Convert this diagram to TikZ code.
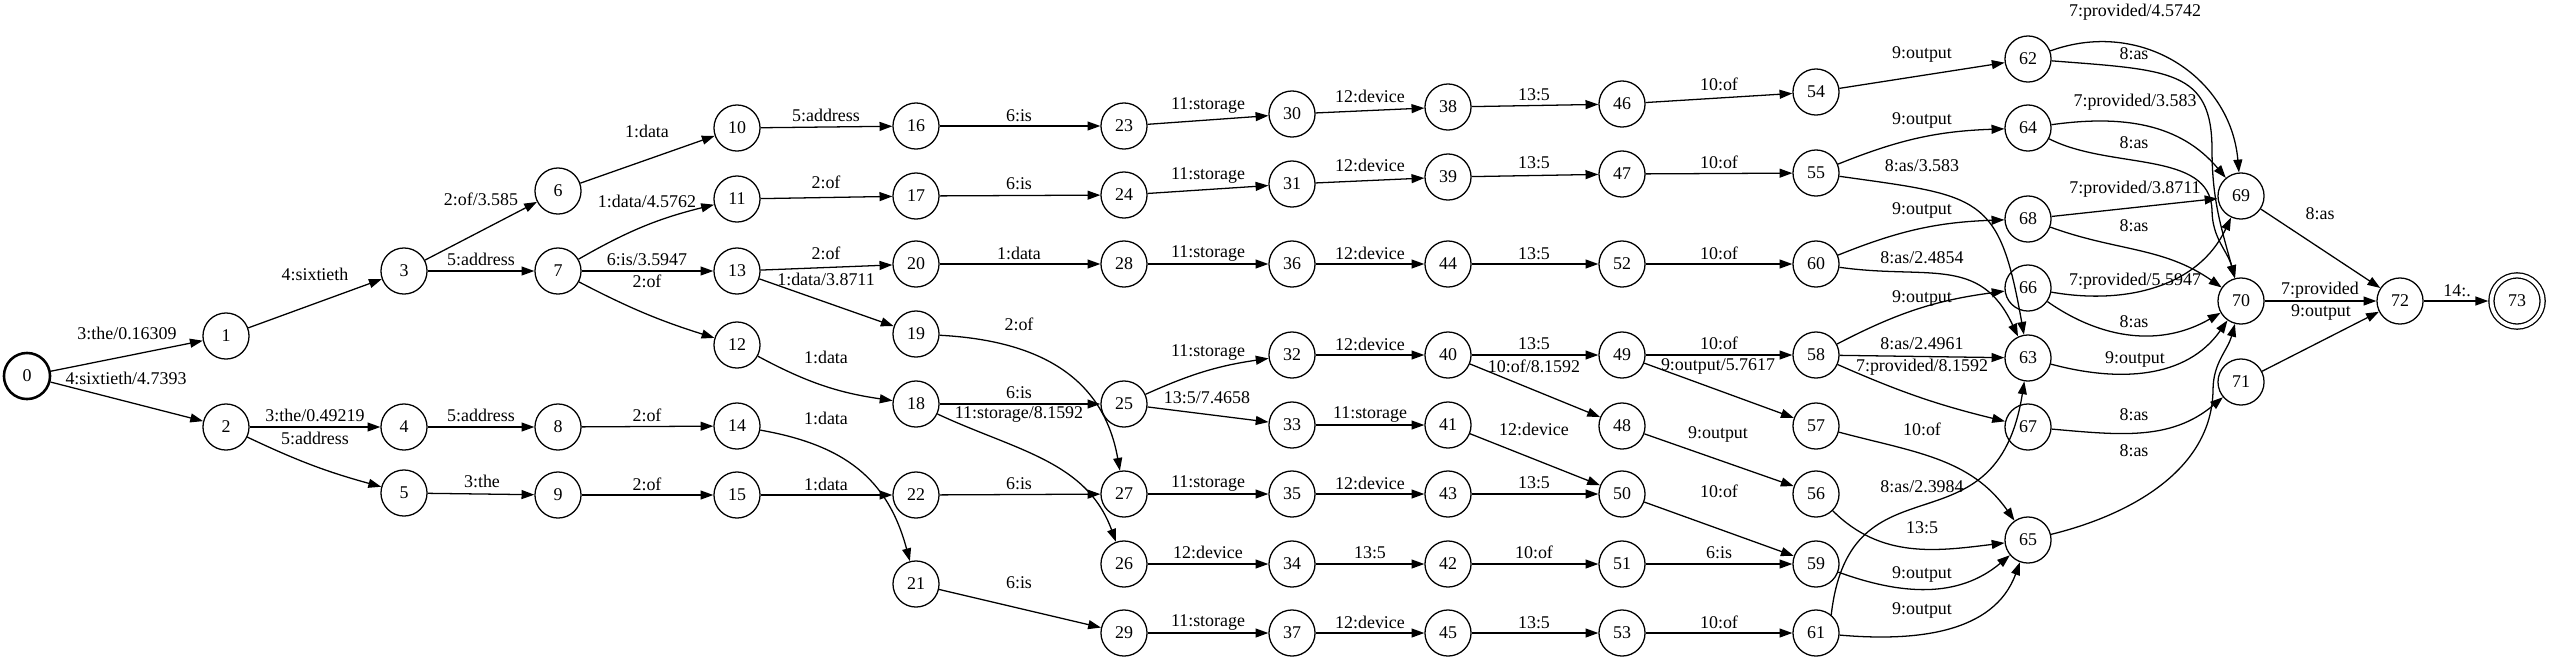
\documentclass[tikz,border=0pt]{standalone}
\usepackage{fontspec}
\setmainfont{Liberation Serif}
\usetikzlibrary{arrows.meta, positioning}

\begin{document}
\begin{tikzpicture}[x=0.78125pt, y=0.78125pt, font=\fontsize{14}{16}\selectfont]
        \tikzstyle{state} = [circle, minimum size=36pt, inner sep=0pt, draw=black, line width=1pt]
        \tikzstyle{trans} = [-{Triangle[length=10pt, width=7pt]}, line width=1pt]
        \tikzstyle{arclabel} = [inner sep=0pt, yshift=2pt]
        \useasboundingbox (0,0) rectangle (2550,-662);

        %states
        \node[state, line width=2pt] (0) at (27,-376) {0};
        \node[state] (1) at (226,-336) {1};
        \node[state] (2) at (226,-427) {2};
        \node[state] (3) at (404,-271) {3};
        \node[state] (4) at (404,-427) {4};
        \node[state] (5) at (404,-493) {5};
        \node[state] (6) at (558,-191) {6};
        \node[state] (7) at (558,-271) {7};
        \node[state] (8) at (558,-427) {8};
        \node[state] (9) at (558,-495) {9};
        \node[state] (10) at (737,-128) {10};
        \node[state] (11) at (737,-199) {11};
        \node[state] (13) at (737,-271) {13};
        \node[state] (12) at (737,-345) {12};
        \node[state] (14) at (737,-426) {14};
        \node[state] (15) at (737,-495) {15};
        \node[state] (16) at (916,-126) {16};
        \node[state] (17) at (916,-196) {17};
        \node[state] (20) at (916,-264) {20};
        \node[state] (19) at (916,-334) {19};
        \node[state] (18) at (916,-404) {18};
        \node[state] (22) at (916,-495) {22};
        \node[state] (21) at (916,-584) {21};
        \node[state] (23) at (1124,-126) {23};
        \node[state] (24) at (1124,-195) {24};
        \node[state] (28) at (1124,-264) {28};
        \node[state] (25) at (1124,-404) {25};
        \node[state] (27) at (1124,-494) {27};
        \node[state] (26) at (1124,-564) {26};
        \node[state] (29) at (1124,-633) {29};
        \node[state] (30) at (1292,-114) {30};
        \node[state] (31) at (1292,-184) {31};
        \node[state] (36) at (1292,-264) {36};
        \node[state] (32) at (1292,-355) {32};
        \node[state] (33) at (1292,-425) {33};
        \node[state] (35) at (1292,-494) {35};
        \node[state] (34) at (1292,-564) {34};
        \node[state] (37) at (1292,-633) {37};
        \node[state] (38) at (1448,-107) {38};
        \node[state] (39) at (1448,-177) {39};
        \node[state] (44) at (1448,-264) {44};
        \node[state] (40) at (1448,-355) {40};
        \node[state] (41) at (1448,-425) {41};
        \node[state] (43) at (1448,-494) {43};
        \node[state] (42) at (1448,-564) {42};
        \node[state] (45) at (1448,-633) {45};
        \node[state] (46) at (1622,-104) {46};
        \node[state] (47) at (1622,-174) {47};
        \node[state] (52) at (1622,-264) {52};
        \node[state] (49) at (1622,-355) {49};
        \node[state] (48) at (1622,-426) {48};
        \node[state] (50) at (1622,-494) {50};
        \node[state] (51) at (1622,-564) {51};
        \node[state] (53) at (1622,-633) {53};
        \node[state] (54) at (1816,-92) {54};
        \node[state] (55) at (1816,-173) {55};
        \node[state] (60) at (1816,-264) {60};
        \node[state] (58) at (1816,-355) {58};
        \node[state] (57) at (1816,-426) {57};
        \node[state] (56) at (1816,-494) {56};
        \node[state] (59) at (1816,-564) {59};
        \node[state] (61) at (1816,-633) {61};
        \node[state] (62) at (2028,-59) {62};
        \node[state] (64) at (2028,-128) {64};
        \node[state] (68) at (2028,-219) {68};
        \node[state] (66) at (2028,-288) {66};
        \node[state] (63) at (2028,-358) {63};
        \node[state] (67) at (2028,-427) {67};
        \node[state] (65) at (2028,-540) {65};
        \node[state] (69) at (2241,-196) {69};
        \node[state] (70) at (2241,-301) {70};
        \node[state] (71) at (2241,-382) {71};
        \node[state] (72) at (2400,-301) {72};
        \node[state, double, double distance=3pt, minimum size=40pt, outer sep=2.5pt] (73) at (2517,-301) {73};

        %the / sixtieth
        \draw[trans] (0) -- (1);
        \node[arclabel] at (127,-336) {3:the/0.16309};
        \draw[trans] (0) -- (2);
        \node[arclabel] at (126,-381) {4:sixtieth/4.7393};
        \draw[trans] (1) -- (3);
        \node[arclabel] at (315,-277) {4:sixtieth};
        \draw[trans] (2) -- (4);
        \node[arclabel] at (315,-418) {3:the/0.49219};
        \draw[trans] (2) to[bend right=5] (5);
        \node[arclabel] at (315,-441) {5:address};

        %address / of
        \draw[trans] (3) -- (6);
        \node[arclabel] at (481,-202) {2:of/3.585};
        \draw[trans] (3) -- (7);
        \node[arclabel] at (481,-262) {5:address};
        \draw[trans] (4) -- (8);
        \node[arclabel] at (481,-418) {5:address};
        \draw[trans] (5) -- (9);
        \node[arclabel] at (482,-484) {3:the};
        \draw[trans] (6) -- (10);
        \node[arclabel] at (647,-134) {1:data};
        \draw[trans] (7) to[bend left=8] (11);
        \node[arclabel] at (647,-204) {1:data/4.5762};
        \draw[trans] (7) -- (13);
        \node[arclabel] at (647,-262) {6:is/3.5947};
        \draw[trans] (7) to[bend right=5] (12);
        \node[arclabel] at (647,-284) {2:of};
        \draw[trans] (8) -- (14);
        \node[arclabel] at (647,-418) {2:of};
        \draw[trans] (9) -- (15);
        \node[arclabel] at (647,-487) {2:of};

        %data
        \draw[trans] (10) -- (16);
        \node[arclabel] at (826,-118) {5:address};
        \draw[trans] (11) -- (17);
        \node[arclabel] at (826,-185) {2:of};
        \draw[trans] (13) -- (20);
        \node[arclabel] at (826,-256) {2:of};
        \draw[trans] (13) -- (19);
        \node[arclabel] at (826,-282) {1:data/3.8711};
        \draw[trans] (12) to[bend right=10] (18);
        \node[arclabel] at (826,-360) {1:data};
        \draw[trans] (14) to[out=-10, in=105, looseness=1.1] (21);
        \node[arclabel] at (826,-421) {1:data};
        \draw[trans] (15) -- (22);
        \node[arclabel] at (826,-487) {1:data};

        %is
        \draw[trans] (16) -- (23);
        \node[arclabel] at (1019,-118) {6:is};
        \draw[trans] (17) -- (24);
        \node[arclabel] at (1019,-186) {6:is};
        \draw[trans] (20) -- (28);
        \node[arclabel] at (1019,-256) {1:data};
        \draw[trans] (19) to[out=-3, in=100, looseness=1.1] (27);
        \node[arclabel] at (1019,-327) {2:of};
        \draw[trans] (18) -- (25);
        \node[arclabel] at (1019,-395) {6:is};
        \draw[trans] (18) to[out=-25, in=110] (26);
        \node[arclabel] at (1019,-417) {11:storage/8.1592};
        \draw[trans] (22) -- (27);
        \node[arclabel] at (1019,-486) {6:is};
        \draw[trans] (21) -- (29);
        \node[arclabel] at (1019,-585) {6:is};

        %storage
        \draw[trans] (23) -- (30);
        \node[arclabel] at (1208,-108) {11:storage};
        \draw[trans] (24) -- (31);
        \node[arclabel] at (1208,-178) {11:storage};
        \draw[trans] (28) -- (36);
        \node[arclabel] at (1208,-256) {11:storage};
        \draw[trans] (25) to[bend left=8] (32);
        \node[arclabel] at (1208,-355) {11:storage};
        \draw[trans] (25) -- (33);
        \node[arclabel] at (1207,-400) {13:5/7.4658};
        \draw[trans] (27) -- (35);
        \node[arclabel] at (1208,-486) {11:storage};
        \draw[trans] (26) -- (34);
        \node[arclabel] at (1208,-555) {12:device};
        \draw[trans] (29) -- (37);
        \node[arclabel] at (1208,-625) {11:storage};

        %device
        \draw[trans] (30) -- (38);
        \node[arclabel] at (1370,-99) {12:device};
        \draw[trans] (31) -- (39);
        \node[arclabel] at (1370,-168) {12:device};
        \draw[trans] (36) -- (44);
        \node[arclabel] at (1370,-256) {12:device};
        \draw[trans] (32) -- (40);
        \node[arclabel] at (1370,-347) {12:device};
        \draw[trans] (33) -- (41);
        \node[arclabel] at (1370,-417) {11:storage};
        \draw[trans] (35) -- (43);
        \node[arclabel] at (1370,-486) {12:device};
        \draw[trans] (34) -- (42);
        \node[arclabel] at (1370,-555) {13:5};
        \draw[trans] (37) -- (45);
        \node[arclabel] at (1370,-625) {12:device};

        %5
        \draw[trans] (38) -- (46);
        \node[arclabel] at (1534,-97) {13:5};
        \draw[trans] (39) -- (47);
        \node[arclabel] at (1534,-165) {13:5};
        \draw[trans] (44) -- (52);
        \node[arclabel] at (1534,-256) {13:5};
        \draw[trans] (40) -- (49);
        \node[arclabel] at (1534,-346) {13:5};
        \draw[trans] (40) -- (48);
        \node[arclabel] at (1534,-369) {10:of/8.1592};
        \draw[trans] (41) -- (50);
        \node[arclabel] at (1534,-432) {12:device};
        \draw[trans] (43) -- (50);
        \node[arclabel] at (1534,-485) {13:5};
        \draw[trans] (42) -- (51);
        \node[arclabel] at (1534,-555) {10:of};
        \draw[trans] (45) -- (53);
        \node[arclabel] at (1534,-625) {13:5};

        %of
        \draw[trans] (46) -- (54);
        \node[arclabel] at (1719,-87) {10:of};
        \draw[trans] (47) -- (55);
        \node[arclabel] at (1719,-165) {10:of};
        \draw[trans] (52) -- (60);
        \node[arclabel] at (1719,-256) {10:of};
        \draw[trans] (49) -- (58);
        \node[arclabel] at (1719,-346) {10:of};
        \draw[trans] (49) -- (57);
        \node[arclabel] at (1718,-369) {9:output/5.7617};
        \draw[trans] (48) -- (56);
        \node[arclabel] at (1718,-437) {9:output};
        \draw[trans] (50) -- (59);
        \node[arclabel] at (1719,-494) {10:of};
        \draw[trans] (51) -- (59);
        \node[arclabel] at (1719,-555) {6:is};
        \draw[trans] (53) -- (61);
        \node[arclabel] at (1719,-625) {10:of};

        %output / as
        \draw[trans] (54) -- (62);
        \node[arclabel] at (1922,-57) {9:output};
        \draw[trans] (55) to[bend left=10] (64);
        \node[arclabel] at (1922,-123) {9:output};
        \draw[trans] (55) to[out=-8, in=100, looseness=1.5] (63);
        \node[arclabel] at (1922,-168) {8:as/3.583};
        \draw[trans] (60) to[bend left=10] (68);
        \node[arclabel] at (1922,-213) {9:output};
        \draw[trans] (60) to[out=-8, in=115, looseness=1.2] (63);
        \node[arclabel] at (1922,-260) {8:as/2.4854};
        \draw[trans] (58) to[bend left=10] (66);
        \node[arclabel] at (1922,-301) {9:output};
        \draw[trans] (58) -- (63);
        \node[arclabel] at (1922,-346) {8:as/2.4961};
        \draw[trans] (58) to[bend right=5] (67);
        \node[arclabel] at (1922,-370) {7:provided/8.1592};
        \draw[trans] (57) to[out=-15, in=125] (65);
        \node[arclabel] at (1922,-432) {10:of};
        \draw[trans] (61.50) .. controls (1850,-450) and (1996,-560) .. (63);
        \node[arclabel] at (1922,-489) {8:as/2.3984};
        \draw[trans] (56) to[out=-45, in=187] (65);
        \node[arclabel] at (1922,-530) {13:5};
        \draw[trans] (59) to[out=-20, in=-140] (65);
        \node[arclabel] at (1922,-577) {9:output};
        \draw[trans] (61) to[out=-5, in=-110] (65);
        \node[arclabel] at (1922,-613) {9:output};

        %provided / as
        \draw[trans] (62) to[out=20, in=95, looseness=1.1] (69);
        \node[arclabel] at (2135,-15) {7:provided/4.5742};
        \draw[trans] (62) .. controls (2170,-70) and (2212,-70) .. (2212,-150) to[out=-90, in=105] (70);
        \node[arclabel] at (2134,-56) {8:as};
        \draw[trans] (64) to[out=8, in=130] (69);
        \node[arclabel] at (2135,-105) {7:provided/3.583};
        \draw[trans] (64) .. controls (2110,-170) and (2210,-150) .. (2212,-210) to[out=-90, in=105] (70);
        \node[arclabel] at (2134,-145) {8:as};
        \draw[trans] (68) -- (69);
        \node[arclabel] at (2135,-192) {7:provided/3.8711};
        \draw[trans] (68) to[out=-20, in=145] (70);
        \node[arclabel] at (2134,-228) {8:as};
        \draw[trans] (66) to[out=-10, in=-115] (69);
        \node[arclabel] at (2135,-284) {7:provided/5.5947};
        \draw[trans] (66) to[out=-35, in=-150] (70);
        \node[arclabel] at (2134,-324) {8:as};
        \draw[trans] (63) to[out=-15, in=-125] (70);
        \node[arclabel] at (2135,-362) {9:output};
        \draw[trans] (67) to[out=-5, in=-140] (71);
        \node[arclabel] at (2134,-417) {8:as};
        \draw[trans] (65) .. controls (2130,-515) and (2212,-470) .. (2213,-390) to[out=90, in=-105] (70);
        \node[arclabel] at (2134,-453) {8:as};

        %final
        \draw[trans] (69) -- (72);
        \node[arclabel] at (2320,-216) {8:as};
        \draw[trans] (70) -- (72);
        \node[arclabel] at (2320,-293) {7:provided};
        \draw[trans] (71) -- (72);
        \node[arclabel] at (2321,-315) {9:output};
        \draw[trans] (72) -- (73);
        \node[arclabel] at (2457,-293) {14:.};
    \end{tikzpicture}
\end{document}
